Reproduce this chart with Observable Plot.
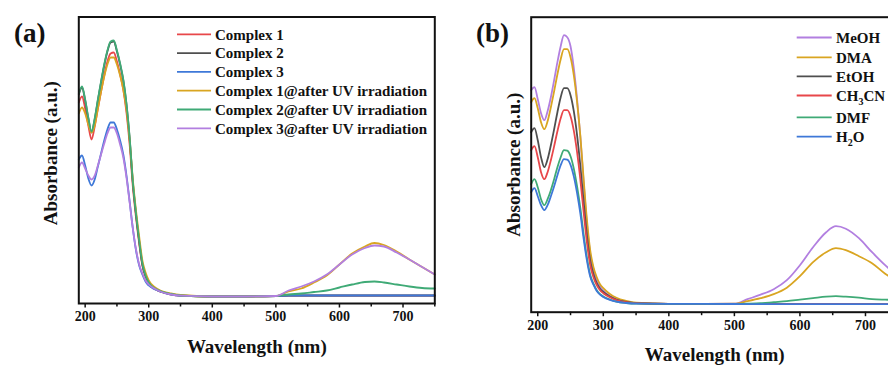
<!DOCTYPE html>
<html><head><meta charset="utf-8">
<script src="https://cdn.jsdelivr.net/npm/d3@7"></script>
<script src="https://cdn.jsdelivr.net/npm/@observablehq/plot@0.6"></script>
<style>
body{margin:0;background:#fff;font-family:"Liberation Serif","Times New Roman",serif;}
#wrap{position:relative;width:888px;height:367px;overflow:hidden;background:#fff;}
.panel{position:absolute;top:0;}
.panel svg{max-width:none !important;display:block;}
.panel svg, .panel svg text{font-family:"Liberation Serif","Times New Roman",serif !important;font-weight:bold;}
</style></head><body><div id="wrap"><div id="pa" class="panel" style="left:0;width:444px"></div><div id="pb" class="panel" style="left:444px;width:460px"></div></div>
<script>
// ---------- data ----------
const wavelength = [190,195,200,205,210,215,220,225,230,235,240,245,250,255,260,265,270,275,280,285,290,295,300,310,320,335,350,400,450,500,520,540,560,580,600,620,640,655,670,690,710,730,750];
const xTicks = [200,300,400,500,600,700];
const xMinorTicks = [250,350,450,550,650,750];

// panel (a)
const seriesA = ["Complex 1","Complex 2","Complex 3","Complex 1@after UV irradiation","Complex 2@after UV irradiation","Complex 3@after UV irradiation"];
const colorsA = ["#E8474A","#4F4F4F","#3E78D8","#D9A521","#3FAA76","#B27FE0"];
const complex1   = [2.01,2.07,1.95,1.78,1.64,1.77,1.95,2.12,2.28,2.42,2.50,2.51,2.42,2.29,2.14,1.91,1.59,1.17,0.86,0.60,0.38,0.27,0.20,0.145,0.115,0.09,0.078,0.07,0.07,0.075,0.078,0.078,0.078,0.078,0.078,0.078,0.078,0.078,0.078,0.078,0.078,0.078,0.078];
const complex2   = [2.09,2.16,2.03,1.85,1.71,1.84,2.03,2.21,2.38,2.52,2.61,2.62,2.52,2.39,2.23,1.99,1.65,1.21,0.89,0.62,0.39,0.275,0.205,0.148,0.118,0.093,0.079,0.07,0.07,0.075,0.08,0.08,0.08,0.08,0.08,0.08,0.08,0.08,0.08,0.08,0.08,0.08,0.08];
const complex3   = [1.44,1.48,1.38,1.25,1.18,1.24,1.37,1.50,1.63,1.74,1.81,1.81,1.74,1.63,1.49,1.28,1.02,0.75,0.53,0.38,0.29,0.22,0.18,0.14,0.115,0.09,0.078,0.07,0.07,0.075,0.08,0.08,0.08,0.08,0.08,0.08,0.08,0.08,0.08,0.08,0.08,0.08,0.08];
const complex1UV = [1.90,1.96,1.90,1.79,1.71,1.78,1.95,2.12,2.27,2.39,2.46,2.46,2.39,2.28,2.14,1.94,1.63,1.24,0.93,0.67,0.43,0.31,0.23,0.16,0.125,0.10,0.085,0.07,0.07,0.075,0.12,0.15,0.21,0.28,0.39,0.50,0.57,0.605,0.585,0.52,0.44,0.365,0.29];
const complex2UV = [2.10,2.17,2.04,1.86,1.72,1.85,2.04,2.22,2.39,2.53,2.62,2.63,2.53,2.40,2.24,2.00,1.66,1.22,0.90,0.63,0.40,0.28,0.21,0.15,0.12,0.095,0.08,0.07,0.07,0.075,0.09,0.10,0.115,0.13,0.16,0.19,0.215,0.22,0.21,0.19,0.17,0.155,0.15];
const complex3UV = [1.36,1.41,1.35,1.28,1.24,1.28,1.38,1.49,1.60,1.70,1.76,1.76,1.70,1.59,1.46,1.26,1.01,0.75,0.54,0.39,0.30,0.23,0.19,0.145,0.115,0.09,0.078,0.07,0.07,0.075,0.13,0.17,0.22,0.29,0.39,0.49,0.555,0.58,0.57,0.51,0.44,0.365,0.29];

// panel (b)
const seriesB = ["MeOH","DMA","EtOH","CH3CN","DMF","H2O"];
const colorsB = ["#B27FE0","#D9A521","#4F4F4F","#E8474A","#3FAA76","#3E78D8"];
const meoh  = [2.22,2.25,2.13,1.99,1.92,2.01,2.15,2.32,2.50,2.66,2.77,2.75,2.66,2.44,2.13,1.75,1.30,0.89,0.59,0.43,0.32,0.256,0.215,0.161,0.126,0.102,0.091,0.084,0.084,0.085,0.13,0.175,0.23,0.32,0.47,0.65,0.80,0.86,0.835,0.74,0.60,0.47,0.36];
const dma   = [2.10,2.14,2.04,1.90,1.83,1.91,2.05,2.21,2.38,2.53,2.63,2.63,2.55,2.37,2.10,1.76,1.33,0.925,0.62,0.45,0.35,0.28,0.24,0.182,0.144,0.113,0.095,0.084,0.084,0.085,0.11,0.14,0.18,0.245,0.36,0.50,0.60,0.64,0.62,0.56,0.49,0.385,0.30];
const etoh  = [1.80,1.84,1.72,1.55,1.45,1.53,1.67,1.83,2.00,2.15,2.24,2.24,2.17,2.01,1.77,1.46,1.105,0.767,0.516,0.38,0.29,0.235,0.202,0.156,0.126,0.102,0.091,0.084,0.084,0.084,0.08,0.08,0.08,0.08,0.08,0.08,0.08,0.08,0.08,0.08,0.08,0.08,0.08];
const ch3cn = [1.62,1.66,1.55,1.40,1.33,1.40,1.52,1.66,1.81,1.94,2.02,2.02,1.96,1.815,1.60,1.325,1.00,0.697,0.472,0.35,0.27,0.219,0.19,0.149,0.121,0.10,0.09,0.084,0.084,0.084,0.08,0.08,0.08,0.08,0.08,0.08,0.08,0.08,0.08,0.08,0.08,0.08,0.08];
const dmf   = [1.28,1.33,1.25,1.13,1.07,1.13,1.22,1.33,1.45,1.55,1.62,1.615,1.56,1.436,1.258,1.041,0.778,0.545,0.375,0.285,0.22,0.181,0.158,0.127,0.106,0.092,0.086,0.084,0.084,0.084,0.086,0.09,0.10,0.11,0.125,0.14,0.155,0.16,0.155,0.145,0.13,0.125,0.122];
const h2o   = [1.20,1.24,1.16,1.07,1.02,1.07,1.16,1.26,1.37,1.47,1.53,1.525,1.474,1.358,1.19,0.985,0.737,0.518,0.357,0.275,0.211,0.175,0.153,0.124,0.105,0.092,0.086,0.084,0.084,0.082,0.08,0.08,0.08,0.08,0.08,0.08,0.08,0.08,0.08,0.08,0.08,0.08,0.08];

const valuesA = [complex1, complex2, complex3, complex1UV, complex2UV, complex3UV];
const valuesB = [meoh, dma, etoh, ch3cn, dmf, h2o];

// ---------- helpers ----------
const FONT = '"Liberation Serif","Times New Roman",serif';
function tidy(names, values) {
  return names.map((s, i) => wavelength.map((w, j) => ({s, w, a: values[i][j]})));
}

function panel(opts) {
  const groups = tidy(opts.series, opts.values);
  const txt = {fontWeight: "bold", fill: "#111", textAnchor: "middle", lineAnchor: "middle"};
  const svg = Plot.plot({
    width: opts.width, height: 367,
    marginLeft: opts.ml, marginRight: opts.mr, marginTop: opts.mt, marginBottom: opts.mb,
    style: {fontFamily: FONT, fontWeight: "bold", background: "transparent", color: "#111"},
    x: {domain: [190, 750]},
    y: {domain: opts.ydomain, axis: null},
    color: {domain: opts.series, range: opts.colors},
    marks: [
      ...groups.map(g => Plot.line(g, {x: "w", y: "a", stroke: "s", strokeWidth: 1.8, curve: "monotone-x"})),
      Plot.axisX({ticks: xMinorTicks, tickSize: 3.5, strokeWidth: 1.5, tickFormat: () => "", label: null}),
      Plot.axisX({ticks: xTicks, tickSize: 4.5, strokeWidth: 1.5, tickPadding: 3, fontSize: 14, fontWeight: "bold", label: null}),
      Plot.frame({stroke: "#111", strokeWidth: 2}),
      Plot.text(["Wavelength (nm)"], {...txt, text: d => d, frameAnchor: "bottom", dy: opts.xlabDy, fontSize: 19}),
      Plot.text(["Absorbance (a.u.)"], {...txt, text: d => d, frameAnchor: "left", rotate: -90, dx: opts.ylabDx, dy: opts.ylabDy, fontSize: 19}),
      Plot.text([opts.tag], {...txt, text: d => d, frameAnchor: "top-left", dx: opts.tagDx, dy: opts.tagDy, fontSize: 27})
    ]
  });
  // legend
  const g = d3.select(svg).append("g").attr("font-family", FONT).attr("font-weight", "bold")
    .attr("font-size", 15).attr("fill", "#111").attr("text-anchor", "start");
  opts.series.forEach((s, i) => {
    const y = opts.leg.rows[i];
    g.append("line").attr("x1", opts.leg.x1).attr("x2", opts.leg.x2).attr("y1", y).attr("y2", y)
      .attr("stroke", opts.colors[i]).attr("stroke-width", 1.8);
    const t = g.append("text").attr("x", opts.leg.tx).attr("y", y).attr("dy", "0.35em");
    const m = s.match(/^([A-Za-z]+)(\d)([A-Za-z]*)$/);
    if (m && opts.subscripts) {
      t.append("tspan").text(m[1]);
      t.append("tspan").attr("font-size", 10).attr("dy", 4).text(m[2]);
      t.append("tspan").attr("dy", -4).text(m[3]);
    } else {
      t.text(s);
    }
  });
  return svg;
}

document.getElementById("pa").appendChild(panel({
  series: seriesA, colors: colorsA, values: valuesA, width: 444,
  ml: 78.3, mr: 9.7, mt: 16.5, mb: 64, ydomain: [0, 2.865],
  xlabDy: 43, ylabDx: -28, ylabDy: -7, tag: "(a)", tagDx: -49, tagDy: 16.5,
  subscripts: false,
  leg: {x1: 177, x2: 211, tx: 215, rows: [34.3, 53.1, 71.9, 90.7, 109.5, 128.3]}
}));
document.getElementById("pb").appendChild(panel({
  series: seriesB, colors: colorsB, values: valuesB, width: 460,
  ml: 86.7, mr: 6.25, mt: 16.7, mb: 55.3, ydomain: [0, 2.95],
  xlabDy: 43, ylabDx: -17, ylabDy: 0, tag: "(b)", tagDx: -38.7, tagDy: 16.3,
  subscripts: true,
  leg: {x1: 352.7, x2: 387.7, tx: 392, rows: [37.5, 57.3, 76.3, 95.5, 117.3, 136.7]}
}));
</script></body></html>
